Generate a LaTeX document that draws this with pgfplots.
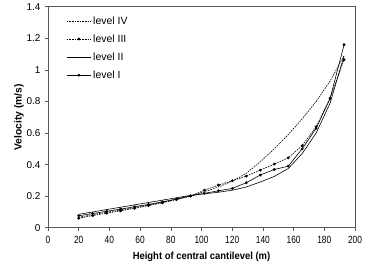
\documentclass[border=0pt]{standalone}
\usepackage{pgfplots}
\pgfplotsset{compat=1.18}
\usepackage{fontspec}
\setmainfont{Liberation Sans}
\newfontfamily\narrowfont[FakeStretch=0.8]{Liberation Sans}
\newfontfamily\labelfont[FakeStretch=0.92]{Liberation Sans}
\begin{document}
\begin{tikzpicture}
\begin{axis}[
  scale only axis,
  width=307bp, height=221bp,
  xmin=0, xmax=200, ymin=0, ymax=1.4,
  xtick={0,20,...,200},
  ytick={0,0.2,...,1.4},
  yticklabel style={/pgf/number format/fixed,/pgf/number format/precision=1, font=\fontsize{10}{11}\selectfont, xshift=-1bp},
  xticklabel style={font=\narrowfont\fontsize{10.5}{11}\selectfont, yshift=-2bp},
  /pgf/number format/assume math mode=true,
  tick align=outside,
  xtick pos=bottom, ytick pos=left,
  major tick length=3bp,
  axis line style={gray!70!black, line width=0.8pt},
  tick style={gray!70!black, line width=0.6pt},
  xlabel={\labelfont\bfseries Height of central cantilevel (m)},
  ylabel={\bfseries Velocity (m/s)},
  label style={font=\fontsize{10.3}{11}\selectfont},
  xlabel style={yshift=-2bp},
  ylabel style={yshift=-4bp},
  legend style={draw=none, fill=none, at={(rel axis cs:0.05,0.975)}, anchor=north west,
    font=\fontsize{10.5}{11}\selectfont, row sep=5bp},
  legend cell align=left,
  legend image code/.code={\draw[#1] (0cm,0cm) -- (0.85cm,0cm) plot coordinates {(0.425cm,0cm)};},
  mark size=1.1pt,
]
% level IV
\addplot[black, line width=0.6pt, dash pattern=on 1.6pt off 1pt] coordinates {
(20,0.066) (29.1,0.083) (38.2,0.098) (47.3,0.112) (56.4,0.127) (65.5,0.144) (74.6,0.161) (83.7,0.181) (92.8,0.202)
(101.9,0.228) (111,0.258) (120.1,0.295) (129.2,0.345) (138.3,0.418) (147.4,0.5) (156.5,0.59) (165.6,0.69) (174.7,0.8) (183.8,0.93) (192.9,1.09)};
\addlegendentry{level IV}
% level III
\addplot[black, line width=0.6pt, dash pattern=on 1.6pt off 1pt, mark=*, mark options={solid}] coordinates {
(20,0.06) (29.1,0.077) (38.2,0.092) (47.3,0.107) (56.4,0.123) (65.5,0.14) (74.6,0.158) (83.7,0.178) (92.8,0.2)
(101.9,0.238) (111,0.27) (120.1,0.298) (129.2,0.327) (138.3,0.365) (147.4,0.403) (156.5,0.443) (165.6,0.52) (174.7,0.64) (183.8,0.82) (192.9,1.065)};
\addlegendentry{level III}
% level II
\addplot[black, line width=0.6pt] coordinates {
(20,0.085) (29.1,0.1) (38.2,0.115) (47.3,0.13) (56.4,0.145) (65.5,0.16) (74.6,0.175) (83.7,0.19) (92.8,0.205)
(101.9,0.215) (111,0.225) (120.1,0.238) (129.2,0.258) (138.3,0.29) (147.4,0.325) (156.5,0.375) (165.6,0.47) (174.7,0.6) (183.8,0.79) (192.9,1.09)};
\addlegendentry{level II}
% level I
\addplot[black, line width=0.6pt, mark=*] coordinates {
(20,0.076) (29.1,0.09) (38.2,0.104) (47.3,0.118) (56.4,0.133) (65.5,0.148) (74.6,0.164) (83.7,0.182) (92.8,0.202)
(101.9,0.218) (111,0.234) (120.1,0.249) (129.2,0.285) (138.3,0.334) (147.4,0.369) (156.5,0.39) (165.6,0.5) (174.7,0.63) (183.8,0.82) (192.9,1.16)};
\addlegendentry{level I}
\end{axis}
\path ([xshift=-48bp,yshift=-42bp]current axis.south west) rectangle ([xshift=16bp,yshift=5bp]current axis.north east);
\end{tikzpicture}
\end{document}
